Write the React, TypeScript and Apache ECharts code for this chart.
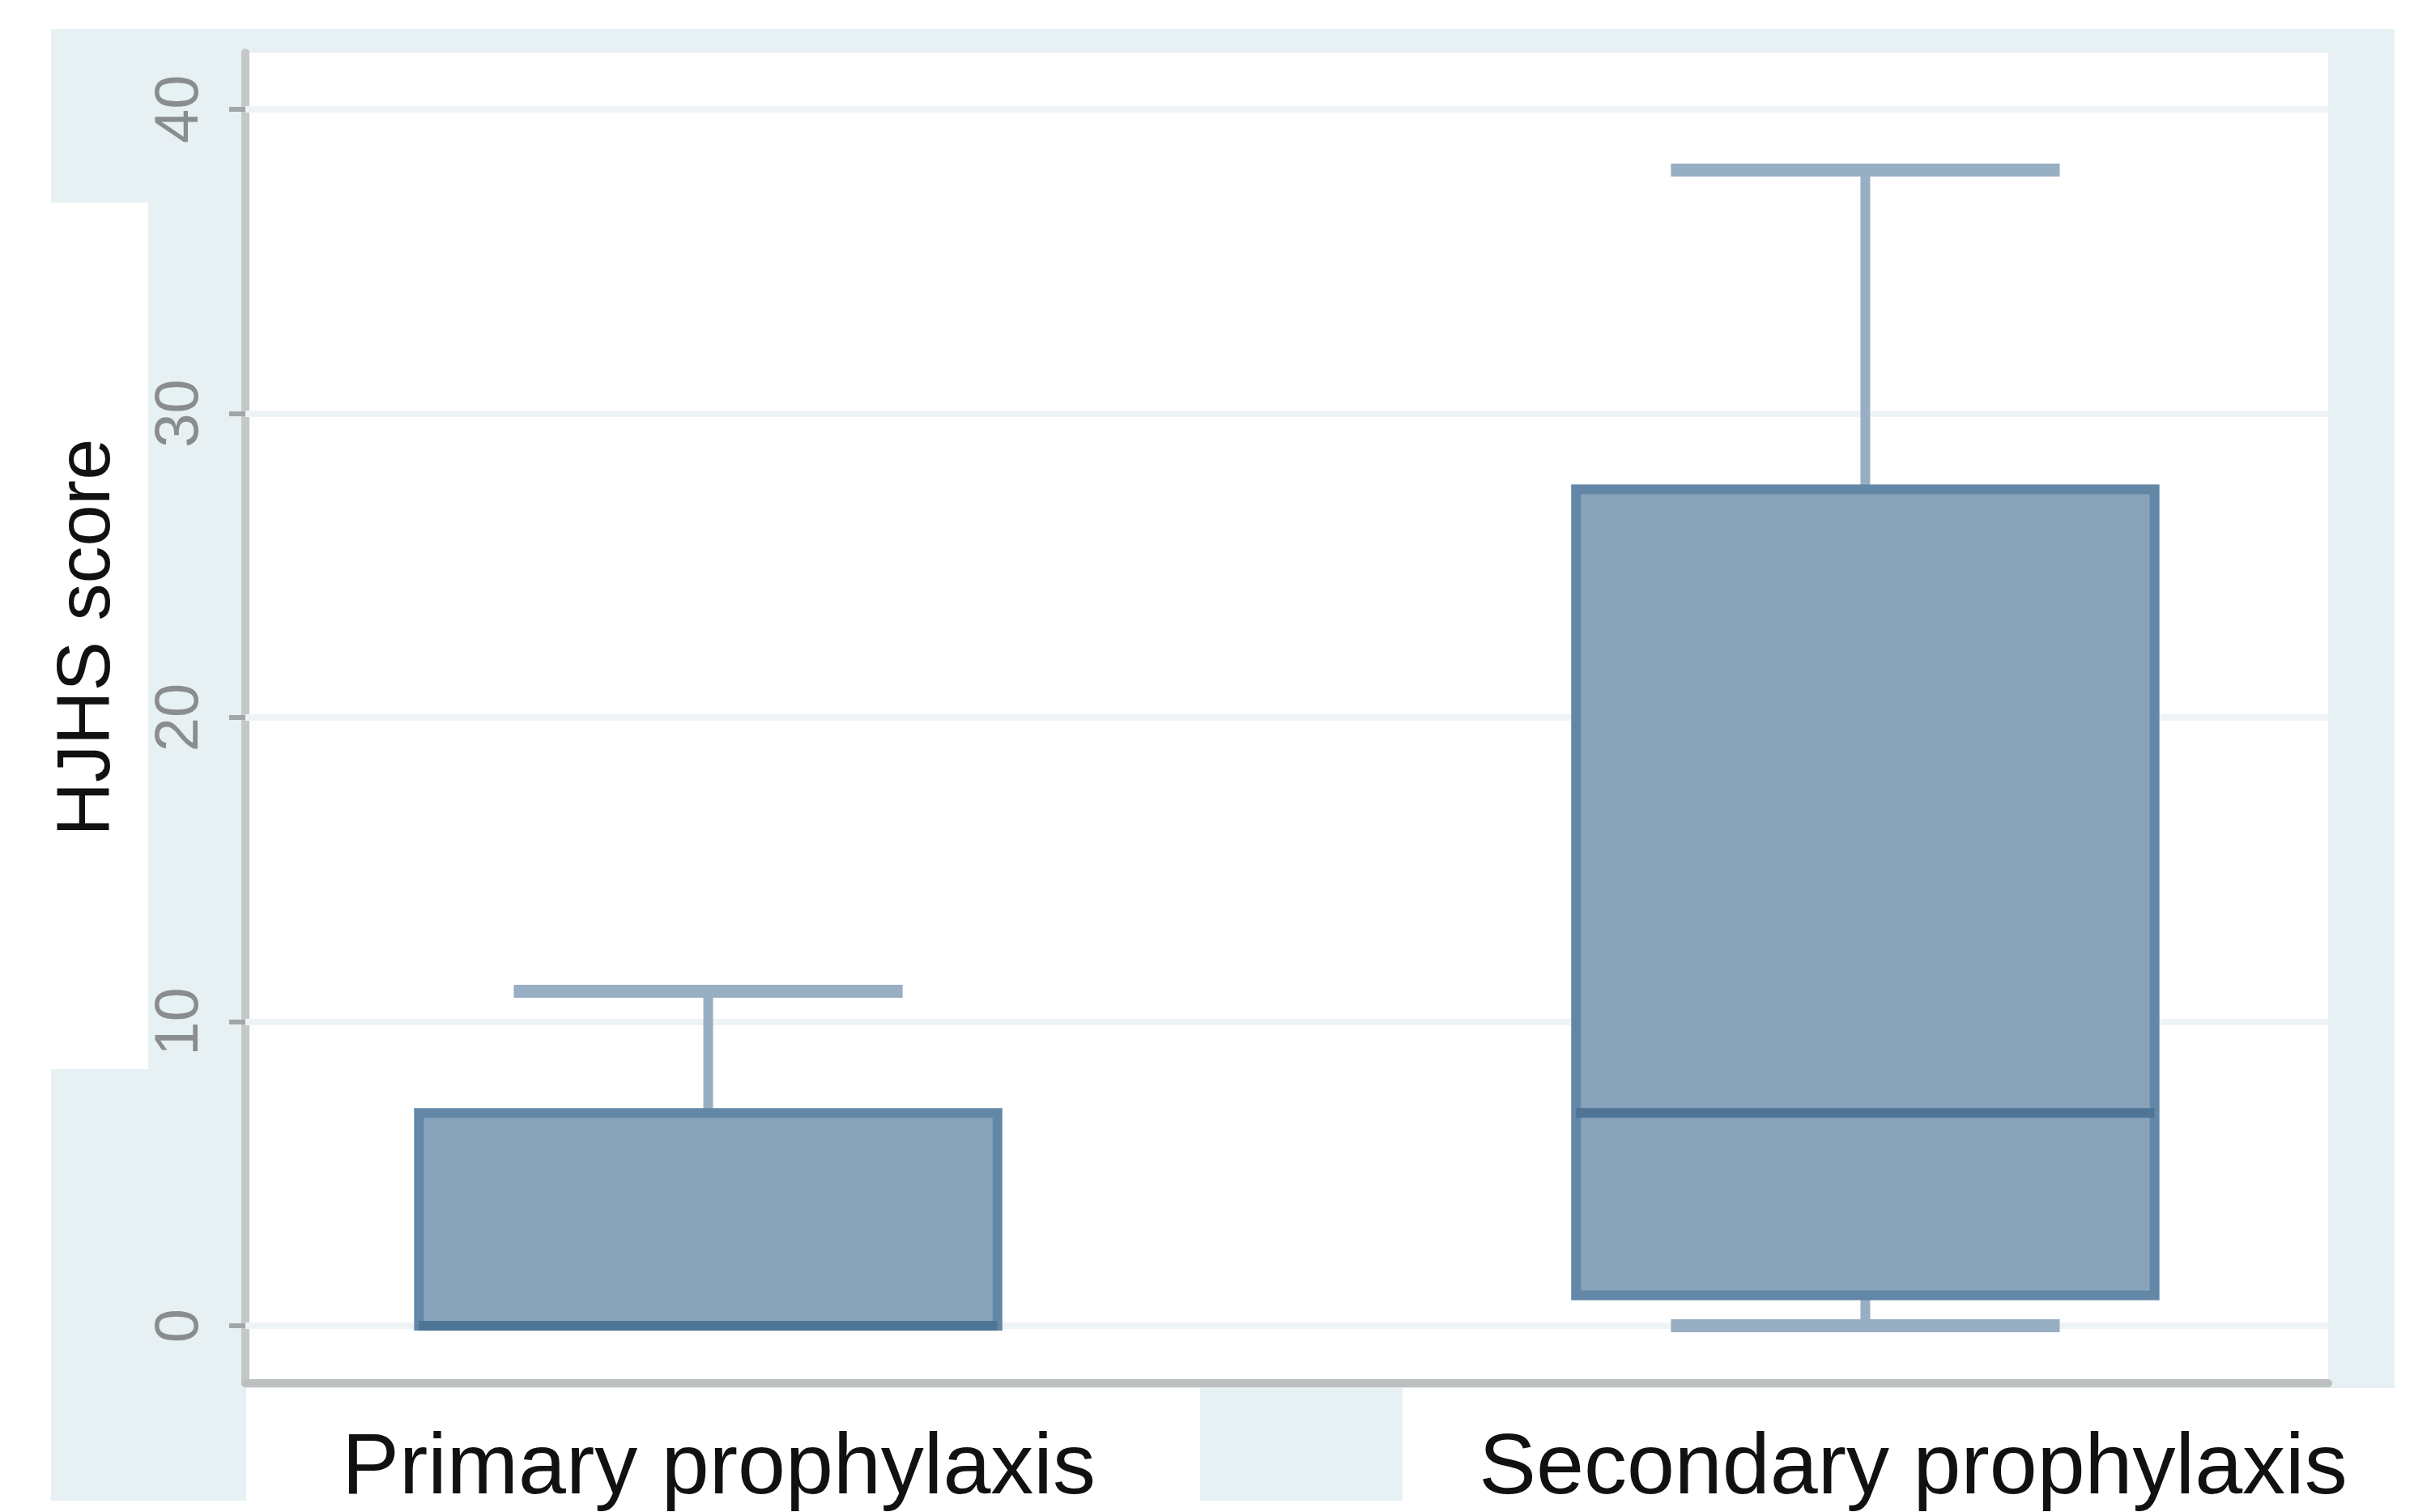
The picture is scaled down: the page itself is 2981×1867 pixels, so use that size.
import React, { useEffect, useRef } from "react";
import * as echarts from "echarts";

// ---- data ----
const categories = ["Primary prophylaxis", "Secondary prophylaxis"];
const positions = [1, 2];
const whiskerLow = [0, 0];
const quartile1 = [0, 1];
const medians = [0, 7];
const quartile3 = [7, 27.5];
const whiskerHigh = [11, 38];
const yTicks = [0, 10, 20, 30, 40];
const yTitle = "HJHS score";

const BOX_HALF = 0.25;
const CAP_HALF = 0.168;

export default function App() {
  const ref = useRef<HTMLDivElement>(null);

  useEffect(() => {
    if (!ref.current) return;
    const chart = echarts.init(ref.current, undefined, { renderer: "svg" });

    const data = positions.map((p, i) => [
      p,
      whiskerLow[i],
      quartile1[i],
      medians[i],
      quartile3[i],
      whiskerHigh[i],
    ]);

    const whiskerColor = "#98aec3";
    const option: any = {
      animation: false,
      backgroundColor: "#ffffff",
      graphic: [
        { type: "rect", z: -10, shape: { x: 63, y: 36, width: 2894, height: 1817 }, style: { fill: "#e7f0f2" } },
        { type: "rect", z: -9, shape: { x: 63, y: 250, width: 120, height: 1070 }, style: { fill: "#ffffff" } },
        { type: "rect", z: -9, shape: { x: 304, y: 1714, width: 1178, height: 153 }, style: { fill: "#ffffff" } },
        { type: "rect", z: -9, shape: { x: 1732, y: 1714, width: 1249, height: 153 }, style: { fill: "#ffffff" } },
        {
          type: "text",
          z: 10,
          x: 103,
          y: 787,
          rotation: Math.PI / 2,
          style: {
            text: yTitle,
            font: "92px 'Liberation Sans', Arial, sans-serif",
            fill: "#111111",
            textAlign: "center",
            textVerticalAlign: "middle",
          },
        },
      ],
      grid: {
        left: 303,
        right: 106,
        top: 65,
        bottom: 159,
        show: true,
        backgroundColor: "#ffffff",
        borderWidth: 0,
      },
      xAxis: {
        type: "value",
        min: 0.6,
        max: 2.4,
        splitLine: { show: false },
        axisLine: { show: true, onZero: false, lineStyle: { color: "#bcc0c1", width: 10 } },
        axisTick: { show: false },
        axisLabel: {
          customValues: positions,
          margin: 46,
          formatter: (v: number) => {
            const i = positions.indexOf(v);
            if (i < 0) return "";
            return i === 0 ? `{p|${categories[i]}}` : `{s|${categories[i]}}`;
          },
          rich: {
            p: {
              fontSize: 106,
              fontFamily: "'Liberation Sans', Arial, sans-serif",
              color: "#111111",
              padding: [0, 0, 0, 26],
            },
            s: {
              fontSize: 106,
              fontFamily: "'Liberation Sans', Arial, sans-serif",
              color: "#111111",
              padding: [0, 0, 0, 118],
            },
          },
        },
      },
      yAxis: {
        type: "value",
        min: -1.89,
        max: 41.86,
        splitLine: { show: false },
        axisLine: { show: true, onZero: false, lineStyle: { color: "#c4c8c9", width: 10 } },
        axisTick: {
          show: true,
          customValues: yTicks,
          length: 20,
          lineStyle: { color: "#a3a6a7", width: 6 },
        },
        axisLabel: {
          customValues: yTicks,
          rotate: 90,
          margin: 48,
          fontSize: 76,
          fontFamily: "'Liberation Sans Narrow', 'Liberation Sans', Arial, sans-serif",
          color: "#8a8d8e",
        },
      },
      series: [
        {
          type: "custom",
          name: "HJHS",
          data,
          encode: { x: 0, y: [1, 2, 3, 4, 5] },
          z: 3,
          markLine: {
            silent: true,
            z: 1,
            symbol: "none",
            label: { show: false },
            lineStyle: { color: "#eef4f6", width: 8, type: "solid" },
            data: yTicks.map((v) => ({ yAxis: v })),
          },
          renderItem: (params: any, api: any) => {
            const x = api.value(0);
            const lo = api.value(1);
            const q1 = api.value(2);
            const med = api.value(3);
            const q3 = api.value(4);
            const hi = api.value(5);
            const cx = api.coord([x, 0])[0];
            const yLo = api.coord([x, lo])[1];
            const yQ1 = api.coord([x, q1])[1];
            const yMed = api.coord([x, med])[1];
            const yQ3 = api.coord([x, q3])[1];
            const yHi = api.coord([x, hi])[1];
            const hb = api.size([BOX_HALF, 0])[0];
            const hc = api.size([CAP_HALF, 0])[0];
            const children: any[] = [];
            if (hi > q3) {
              children.push({
                type: "line",
                shape: { x1: cx, y1: yQ3, x2: cx, y2: yHi },
                style: { stroke: whiskerColor, lineWidth: 12 },
              });
              children.push({
                type: "line",
                shape: { x1: cx - hc, y1: yHi, x2: cx + hc, y2: yHi },
                style: { stroke: whiskerColor, lineWidth: 16 },
              });
            }
            if (lo < q1) {
              children.push({
                type: "line",
                shape: { x1: cx, y1: yQ1, x2: cx, y2: yLo },
                style: { stroke: whiskerColor, lineWidth: 12 },
              });
              children.push({
                type: "line",
                shape: { x1: cx - hc, y1: yLo, x2: cx + hc, y2: yLo },
                style: { stroke: whiskerColor, lineWidth: 16 },
              });
            }
            children.push({
              type: "rect",
              shape: { x: cx - hb, y: yQ3, width: hb * 2, height: yQ1 - yQ3 },
              style: { fill: "#88a3ba", stroke: "#6388a7", lineWidth: 12 },
            });
            children.push({
              type: "line",
              shape: { x1: cx - hb, y1: yMed, x2: cx + hb, y2: yMed },
              style: { stroke: "#4f7596", lineWidth: 12 },
            });
            return { type: "group", children };
          },
        },
      ],
    };

    chart.setOption(option);
    return () => chart.dispose();
  }, []);

  return (
    <div
      ref={ref}
      style={{ position: "fixed", left: 0, top: 0, width: "2981px", height: "1867px" }}
    />
  );
}
